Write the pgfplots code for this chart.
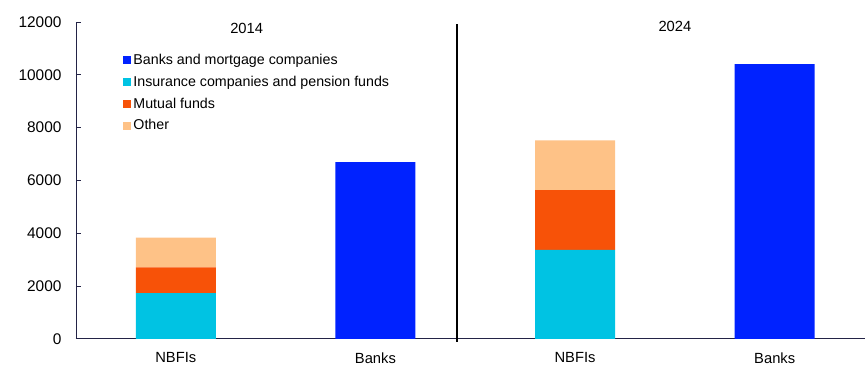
\documentclass[border=0pt]{standalone}
\usepackage{pgfplots}
\pgfplotsset{compat=1.18}
\usepackage{fontspec}
\setmainfont{Liberation Sans}
\definecolor{cBlue}{RGB}{0,34,255}
\definecolor{cCyan}{RGB}{0,195,227}
\definecolor{cOrange}{RGB}{247,82,8}
\definecolor{cLight}{RGB}{254,194,135}
\definecolor{cAxis}{RGB}{35,35,70}
\begin{document}
\begin{tikzpicture}
\begin{axis}[
  scale only axis, width=789bp, height=317bp,
  xmin=-0.5, xmax=3.45, ymin=0, ymax=12000,
  ybar stacked, bar width=80bp,
  axis x line*=bottom, axis y line*=left,
  axis line style={-, cAxis, line width=0.9bp},
  clip=false,
  xtick={0,1,2,3}, xticklabels={NBFIs,Banks,NBFIs,Banks},
  x tick style={draw=none},
  ytick={0,2000,...,12000},
  scaled y ticks=false,
  y tick label style={/pgf/number format/1000 sep={}, font=\fontsize{15.5}{17}\selectfont, xshift=-11bp},
  x tick label style={font=\fontsize{14.8}{17}\selectfont, yshift=-10bp},
  /pgf/number format/assume math mode=true,
  ytick align=inside, y tick style={cAxis, line width=0.9bp}, major tick length=5bp,
  legend style={at={(0.060,0.905)}, anchor=north west, draw=none, fill=none,
    font=\fontsize{14.3}{16}\selectfont, row sep=6bp, inner sep=0pt,
    cells={anchor=west}},
  legend image code/.code={\fill[#1] (0bp,-4bp) rectangle (8bp,4bp);},
]
\addplot[fill=cBlue, draw=none] coordinates {(0,0) (1,6690) (2,0) (3,10400)};
\addplot[fill=cCyan, draw=none] coordinates {(0,1730) (1,0) (2,3370) (3,0)};
\addplot[fill=cOrange, draw=none] coordinates {(0,975) (1,0) (2,2260) (3,0)};
\addplot[fill=cLight, draw=none] coordinates {(0,1130) (1,0) (2,1885) (3,0)};
\legend{Banks and mortgage companies, Insurance companies and pension funds, Mutual funds, Other}
\draw[black, line width=1.8bp] (axis cs:1.41,-110) -- (axis cs:1.41,11930);
\node[font=\fontsize{14.8}{17}\selectfont] at (axis cs:0.355,11760) {2014};
\node[font=\fontsize{14.8}{17}\selectfont] at (axis cs:2.5,11830) {2024};
\path ([shift={(-76bp,-28bp)}]rel axis cs:0,0) rectangle ([shift={(0bp,22bp)}]rel axis cs:1,1);
\end{axis}
\end{tikzpicture}
\end{document}
